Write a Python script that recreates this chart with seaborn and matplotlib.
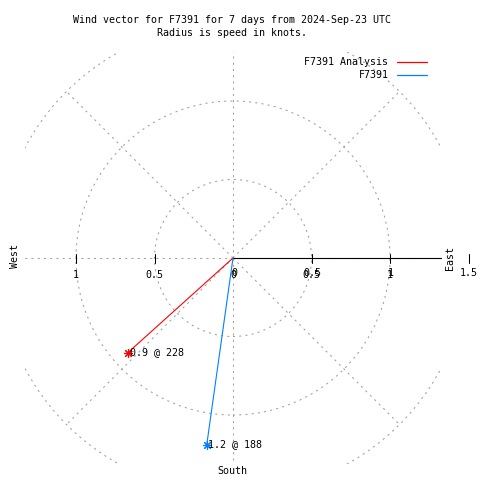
import numpy as np
import pandas as pd
import matplotlib
matplotlib.use('Agg')
import matplotlib.pyplot as plt
from matplotlib.patches import Circle, Rectangle
from matplotlib.lines import Line2D
import seaborn as sns

# wind vectors
names = ['F7391 Analysis', 'F7391']
speeds = [0.9, 1.2]          # knots
directions = [228, 188]      # degrees, compass
colors = ['#ff0000', '#0080ff']
tick_values = [0.5, 1.0]
ring_values = [0.5, 1.0, 1.5]

sns.set_style('white')
plt.rcParams['font.family'] = ['DejaVu Sans Mono', 'DejaVu Sans']
plt.rcParams['font.size'] = 7.2
plt.rcParams['text.color'] = 'black'

# pixel layout: centre at (233, 258), 157 px per knot
px = 157.0
cx, cy = 233.0, 258.0
fig = plt.figure(figsize=(4.8, 4.8), dpi=100)
ax = fig.add_axes([0, 0, 1, 1])
ax.set_xlim(-cx / px, (480 - cx) / px)
ax.set_ylim(-(480 - cy) / px, cy / px)
ax.axis('off')

grid_kw = dict(color='#a0a0a0', lw=0.75, ls=(0, (2, 4)))
clip = Rectangle((-1.325, -1.31), 2.65, 2.62, transform=ax.transData, fill=False, visible=False)
ax.add_patch(clip)

for r in ring_values:
    c = Circle((0, 0), r, fill=False, **grid_kw)
    ax.add_patch(c)
    c.set_clip_path(clip)

for a in range(0, 360, 45):
    t = np.deg2rad(a)
    ln, = ax.plot([0, 1.5 * np.cos(t)], [0, 1.5 * np.sin(t)], **grid_kw)
    ln.set_clip_path(clip)

# radial axis
ax.plot([0, 1.325], [0, 0], color='black', lw=0.8)
tl = 4.5 / px
for v in [-1.0, -0.5, 0.5, 1.0, 1.5]:
    ax.plot([v, v], [-tl, tl], color='black', lw=0.75, clip_on=False)
ly = -16.5 / px
for v in [-1.0, -0.5]:
    ax.text(v, ly, f'{abs(v):g}', ha='center', va='center')
for v in [0.0, 0.5, 1.0]:
    ax.text(v, ly, f'{v:g}', ha='center', va='center')
    ax.text(v + 1 / px, ly + 2 / px, f'{v:g}', ha='center', va='center')
ax.text(1.5, ly + 2 / px, '1.5', ha='center', va='center')

ax.text(-218 / px, 2 / px, 'West', rotation=90, ha='center', va='center')
ax.text(217 / px, 0 / px, 'East', rotation=90, ha='center', va='center')
ax.text(-1 / px, -213 / px, 'South', ha='center', va='center')

# vectors
rows = []
for n, s, d in zip(names, speeds, directions):
    t = np.deg2rad(d)
    rows.append({'name': n, 'x': 0.0, 'y': 0.0})
    rows.append({'name': n, 'x': s * np.sin(t), 'y': s * np.cos(t)})
df = pd.DataFrame(rows)
sns.lineplot(data=df, x='x', y='y', hue='name', palette=dict(zip(names, colors)),
             sort=False, estimator=None, legend=False, lw=0.8, ax=ax)
ax.axis('off')
ends = df.iloc[1::2]
for (_, row), s, d, col in zip(ends.iterrows(), speeds, directions, colors):
    ax.plot(row['x'], row['y'], marker=(8, 2, 0), ms=6.5, mew=0.8, color=col)
    ax.annotate(f'{s:g} @ {d}', (row['x'], row['y']), xytext=(1.2, 0),
                textcoords='offset points', ha='left', va='center')

fig.text(232 / 480, 1 - 20 / 480, 'Wind vector for F7391 for 7 days from 2024-Sep-23 UTC',
         ha='center', va='center')
fig.text(232 / 480, 1 - 33 / 480, 'Radius is speed in knots.', ha='center', va='center')

handles = [Line2D([], [], color=c, lw=0.9) for c in colors]
ax.legend(handles, names, loc='upper right', bbox_to_anchor=(427 / 480, 1 - 57 / 480),
          bbox_transform=fig.transFigure, frameon=False, markerfirst=False,
          handlelength=3.0, handletextpad=0.85, labelspacing=0.35, borderpad=0,
          borderaxespad=0)

fig.savefig('out.png', dpi=100)
